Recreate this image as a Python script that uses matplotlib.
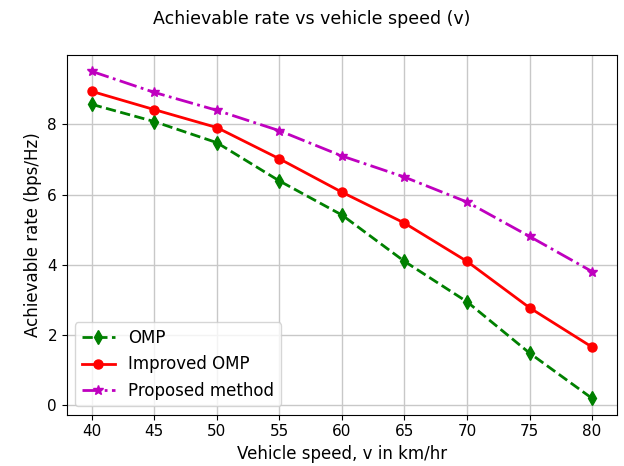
import matplotlib
matplotlib.use('Agg')
import matplotlib.pyplot as plt

speeds = [40, 45, 50, 55, 60, 65, 70, 75, 80]
omp = [8.57, 8.08, 7.48, 6.39, 5.42, 4.10, 2.95, 1.49, 0.20]
improved_omp = [8.94, 8.42, 7.91, 7.02, 6.07, 5.19, 4.10, 2.78, 1.66]
proposed = [9.51, 8.91, 8.40, 7.82, 7.10, 6.50, 5.79, 4.81, 3.81]

fig = plt.figure(figsize=(6.24, 4.66), dpi=100)
ax = fig.add_axes([0.107, 0.11, 0.882, 0.772])

ax.plot(speeds, omp, 'g--d', linewidth=2, markersize=7, label='OMP')
ax.plot(speeds, improved_omp, 'r-o', linewidth=2, markersize=6.5, label='Improved OMP')
ax.plot(speeds, proposed, 'm-.*', linewidth=2, markersize=7, label='Proposed method')

fig.suptitle('Achievable rate vs vehicle speed (v)', y=0.978, fontsize=12.5)
ax.set_xlabel('Vehicle speed, v in km/hr', fontsize=12)
ax.set_ylabel('Achievable rate (bps/Hz)', fontsize=12)
ax.set_xticks(speeds)
ax.tick_params(labelsize=11)
ax.grid(True, linewidth=1, color='#c8c8c8')
ax.legend(loc='lower left', fontsize=12)

fig.savefig('out.png')
